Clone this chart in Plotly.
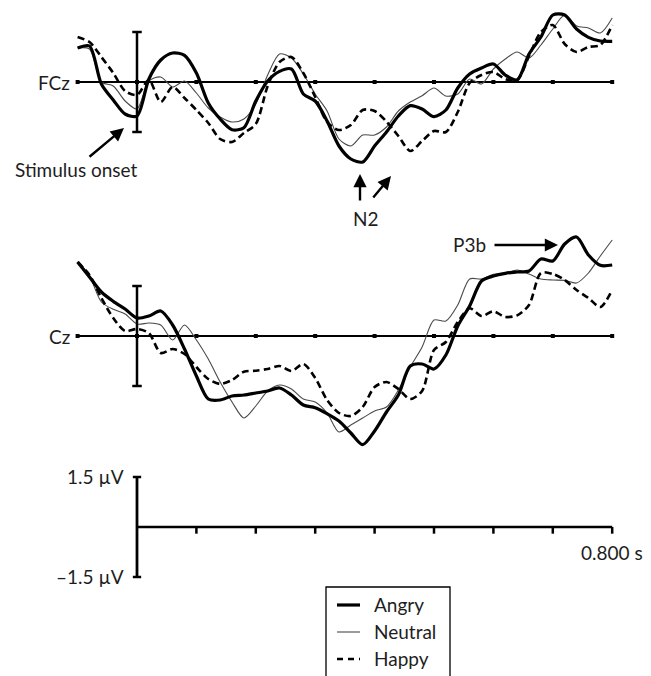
import plotly.graph_objects as go

# ---------------- data (µV) ----------------
time_s = [-0.10, -0.08, -0.06, -0.04, -0.02, 0.00, 0.02, 0.04, 0.06, 0.08,
          0.10, 0.12, 0.14, 0.16, 0.18, 0.20, 0.22, 0.24, 0.26, 0.28,
          0.30, 0.32, 0.34, 0.36, 0.38, 0.40, 0.42, 0.44, 0.46, 0.48,
          0.50, 0.52, 0.54, 0.56, 0.58, 0.60, 0.62, 0.64, 0.66, 0.68,
          0.70, 0.72, 0.74, 0.76, 0.78, 0.80]

fcz_angry = [1.02, 1.08, -0.06, -0.54, -0.96, -1.02, 0.09, 0.66, 0.87, 0.80,
             0.27, -0.63, -1.11, -1.43, -1.37, -0.57, 0.03, 0.32, 0.39, -0.36,
             -0.57, -1.17, -1.92, -2.31, -2.40, -1.92, -1.50, -1.02, -0.71, -0.81,
             -1.04, -0.84, -0.18, 0.24, 0.42, 0.54, 0.21, 0.06, 0.84, 1.35,
             2.01, 2.01, 1.59, 1.34, 1.23, 1.22]
fcz_neutral = [1.02, 0.99, 0.00, -0.12, -0.57, -0.81, 0.03, 0.15, -0.15, 0.03,
               -0.33, -0.78, -1.05, -1.20, -1.11, -0.66, 0.21, 0.84, 0.72, 0.24,
               -0.36, -0.87, -1.71, -1.92, -1.59, -1.59, -1.35, -0.87, -0.60, -0.41,
               -0.18, -0.42, -0.36, 0.09, -0.06, 0.39, 0.69, 0.90, 0.72, 1.11,
               1.59, 2.01, 1.68, 1.62, 1.47, 1.92]
fcz_happy = [1.35, 1.20, 0.75, 0.27, -0.27, -0.39, 0.06, -0.60, -0.15, -0.48,
             -0.84, -1.23, -1.71, -1.80, -1.53, -1.26, -0.12, 0.60, 0.75, 0.27,
             -0.45, -1.20, -1.44, -1.29, -0.84, -0.87, -1.19, -1.62, -2.07, -1.77,
             -1.47, -1.50, -0.90, -0.03, 0.21, 0.30, 0.09, 0.06, 0.78, 1.50,
             1.71, 1.14, 0.90, 1.05, 1.11, 1.71]

cz_angry = [2.22, 1.77, 1.32, 1.04, 0.81, 0.54, 0.60, 0.75, 0.33, -0.39,
            -1.20, -1.89, -1.92, -1.80, -1.77, -1.71, -1.65, -1.56, -1.77, -2.07,
            -2.15, -2.33, -2.55, -2.91, -3.26, -2.85, -2.28, -1.77, -0.90, -0.84,
            -0.99, -0.57, 0.30, 0.90, 1.65, 1.80, 1.88, 1.92, 1.95, 2.31,
            2.25, 2.76, 2.97, 2.43, 2.12, 2.13]
cz_neutral = [2.22, 1.80, 1.02, 0.80, 0.66, 0.36, 0.39, 0.33, -0.12, 0.33,
              -0.12, -0.69, -1.38, -1.98, -2.46, -2.10, -1.65, -1.47, -1.59, -1.89,
              -1.98, -2.31, -2.88, -2.67, -2.46, -2.25, -2.13, -1.62, -0.93, -0.33,
              0.48, 0.45, 0.93, 1.71, 1.71, 1.85, 1.89, 1.98, 1.86, 1.71,
              1.68, 1.67, 1.59, 1.89, 2.40, 2.88]
cz_happy = [2.22, 1.83, 1.14, 0.54, 0.15, 0.21, 0.09, -0.51, -0.39, -0.54,
            -0.93, -1.29, -1.44, -1.32, -1.07, -1.04, -0.99, -0.90, -1.05, -0.84,
            -1.26, -1.92, -2.31, -2.40, -2.13, -1.53, -1.38, -1.59, -1.89, -1.65,
            -0.42, -0.18, 0.42, 0.83, 0.60, 0.74, 0.57, 0.62, 0.93, 1.89,
            1.86, 1.68, 1.38, 1.14, 0.87, 1.38]

axis_ticks_s = [-0.1, 0.0, 0.1, 0.2, 0.3, 0.4, 0.5, 0.6, 0.7, 0.8]
scale_ticks_s = [0.1, 0.2, 0.3, 0.4, 0.5, 0.6, 0.7, 0.8]
scale_uv = 1.5
conditions = ["Angry", "Neutral", "Happy"]
channels = ["FCz", "Cz"]

# ---------------- layout geometry ----------------
# the page body has an 8 px margin, so the figure is drawn 8 px smaller and
# every target pixel position is expressed relative to that offset
OFF = 8
W, H = 651 - OFF, 676 - OFF
PX_PER_UV = 100.0 / 3.0
PX_PER_S = 594.0
X0_PX = 137.0 - OFF
BASE_PX = {"y": 82.0 - OFF, "y2": 336.0 - OFF, "y3": 527.0 - OFF}
FONT = "Lato, 'Open Sans', sans-serif"
TXT = "#1e1e1e"


def yrange(base):
    return [(base - H) / PX_PER_UV, base / PX_PER_UV]


def P(xpx, ypx):
    return (xpx - OFF) / W, 1 - (ypx - OFF) / H


styles = {
    "Angry": dict(color="#000000", width=3.2),
    "Neutral": dict(color="#4a4a4a", width=1.1),
    "Happy": dict(color="#000000", width=2.6, dash="7px,4px"),
}

fig = go.Figure()
shapes = []
annotations = []

panel_data = {
    "y": {"Angry": fcz_angry, "Neutral": fcz_neutral, "Happy": fcz_happy},
    "y2": {"Angry": cz_angry, "Neutral": cz_neutral, "Happy": cz_happy},
}

for yref, ch in zip(["y", "y2"], channels):
    # baseline
    fig.add_trace(go.Scatter(x=[axis_ticks_s[0], axis_ticks_s[-1]], y=[0, 0], yaxis=yref,
                             mode="lines", line=dict(color="black", width=2.2),
                             showlegend=False, hoverinfo="skip"))
    fig.add_trace(go.Scatter(x=axis_ticks_s, y=[0] * len(axis_ticks_s), yaxis=yref,
                             mode="markers", marker=dict(symbol="square", size=4, color="black"),
                             showlegend=False, hoverinfo="skip"))
    # calibration bar at stimulus onset
    shapes.append(dict(type="line", xref="x", yref=yref, x0=0, x1=0, y0=-scale_uv, y1=scale_uv,
                       line=dict(color="black", width=2.5)))
    for s in (-scale_uv, scale_uv):
        shapes.append(dict(type="line", xref="x", yref=yref, x0=-0.008, x1=0.008, y0=s, y1=s,
                           line=dict(color="black", width=2.5)))
    # waveforms
    for cond in ["Neutral", "Happy", "Angry"]:
        fig.add_trace(go.Scatter(x=time_s, y=panel_data[yref][cond], yaxis=yref, name=cond,
                                 mode="lines", line=dict(shape="spline", smoothing=0.8, **styles[cond]),
                                 showlegend=False))
    annotations.append(dict(xref="x", yref=yref, x=axis_ticks_s[0], y=0, text=ch,
                            xanchor="right", yanchor="middle", xshift=-6, showarrow=False,
                            font=dict(family=FONT, size=19, color=TXT)))

# ---------------- scale bar panel ----------------
shapes.append(dict(type="line", xref="x", yref="y3", x0=0, x1=0, y0=-scale_uv, y1=scale_uv,
                   line=dict(color="black", width=2.8)))
for s in (-scale_uv, scale_uv):
    shapes.append(dict(type="line", xref="x", yref="y3", x0=-0.007, x1=0.007, y0=s, y1=s,
                       line=dict(color="black", width=2.5)))
shapes.append(dict(type="line", xref="x", yref="y3", x0=0, x1=scale_ticks_s[-1], y0=0, y1=0,
                   line=dict(color="black", width=2.5)))
for t in scale_ticks_s:
    shapes.append(dict(type="line", xref="x", yref="y3", x0=t, x1=t, y0=0, y1=-0.2,
                       line=dict(color="black", width=2.5)))
fig.add_trace(go.Scatter(x=[0], y=[0], yaxis="y3", mode="markers", marker=dict(size=1, opacity=0),
                         showlegend=False, hoverinfo="skip"))
annotations.append(dict(xref="x", yref="y3", x=0, y=scale_uv, text="1.5 µV", xanchor="right",
                        yanchor="middle", xshift=-11, yshift=1, showarrow=False,
                        font=dict(family=FONT, size=19, color=TXT)))
annotations.append(dict(xref="x", yref="y3", x=0, y=-scale_uv, text="–1.5 µV", xanchor="right",
                        yanchor="middle", xshift=-11, yshift=1, showarrow=False,
                        font=dict(family=FONT, size=19, color=TXT)))
annotations.append(dict(xref="x", yref="y3", x=scale_ticks_s[-1], y=0, text="0.800 s",
                        xanchor="center", yanchor="middle", xshift=0, yshift=-25, showarrow=False,
                        font=dict(family=FONT, size=19, color=TXT)))

# ---------------- component annotations ----------------
def arrow(head, tail):
    hx, hy = P(*head)
    return dict(xref="paper", yref="paper", x=hx, y=hy, ax=tail[0] - head[0], ay=tail[1] - head[1],
                axref="pixel", ayref="pixel", text="", showarrow=True, arrowhead=2, arrowsize=1.1,
                arrowwidth=2.4, arrowcolor="black", standoff=0, startstandoff=0)

annotations.append(arrow((124, 128), (88, 158)))
x, y = P(76, 170)
annotations.append(dict(xref="paper", yref="paper", x=x, y=y, text="Stimulus onset", showarrow=False,
                        xanchor="center", yanchor="middle", font=dict(family=FONT, size=19, color=TXT)))
annotations.append(arrow((360, 174), (360, 202)))
annotations.append(arrow((391, 176), (372, 199)))
x, y = P(366, 218)
annotations.append(dict(xref="paper", yref="paper", x=x, y=y, text="N2", showarrow=False,
                        xanchor="center", yanchor="middle", font=dict(family=FONT, size=19, color=TXT)))
annotations.append(arrow((558, 245), (493, 245)))
x, y = P(469, 244)
annotations.append(dict(xref="paper", yref="paper", x=x, y=y, text="P3b", showarrow=False,
                        xanchor="center", yanchor="middle", font=dict(family=FONT, size=19, color=TXT)))

# ---------------- legend box ----------------
lx0, ly0 = P(326, 587)
lx1, ly1 = P(450, 690)
shapes.append(dict(type="rect", xref="paper", yref="paper", x0=lx0, x1=lx1, y0=ly1, y1=ly0,
                   line=dict(color="black", width=1.3), fillcolor="white"))
leg_rows = {"Angry": 605, "Neutral": 632, "Happy": 659}
for cond in conditions:
    ry = leg_rows[cond]
    a0x, a0y = P(337, ry)
    a1x, _ = P(360, ry)
    st = styles[cond]
    shapes.append(dict(type="line", xref="paper", yref="paper", x0=a0x, x1=a1x, y0=a0y, y1=a0y,
                       line=dict(color=st["color"], width=st["width"],
                                 dash="6px,5px" if cond == "Happy" else "solid")))
    tx, ty = P(372, ry - 1)
    annotations.append(dict(xref="paper", yref="paper", x=tx, y=ty, text=cond, showarrow=False,
                            xanchor="left", yanchor="middle", font=dict(family=FONT, size=19, color=TXT)))

fig.update_layout(
    width=W, height=H,
    margin=dict(l=0, r=0, t=0, b=0),
    paper_bgcolor="white", plot_bgcolor="white",
    showlegend=False,
    xaxis=dict(range=[-X0_PX / PX_PER_S, (W - X0_PX) / PX_PER_S], visible=False, domain=[0, 1]),
    yaxis=dict(range=yrange(BASE_PX["y"]), visible=False, domain=[0, 1]),
    yaxis2=dict(range=yrange(BASE_PX["y2"]), visible=False, overlaying="y"),
    yaxis3=dict(range=yrange(BASE_PX["y3"]), visible=False, overlaying="y"),
    shapes=shapes,
    annotations=annotations,
)

fig.write_html("out.html")
